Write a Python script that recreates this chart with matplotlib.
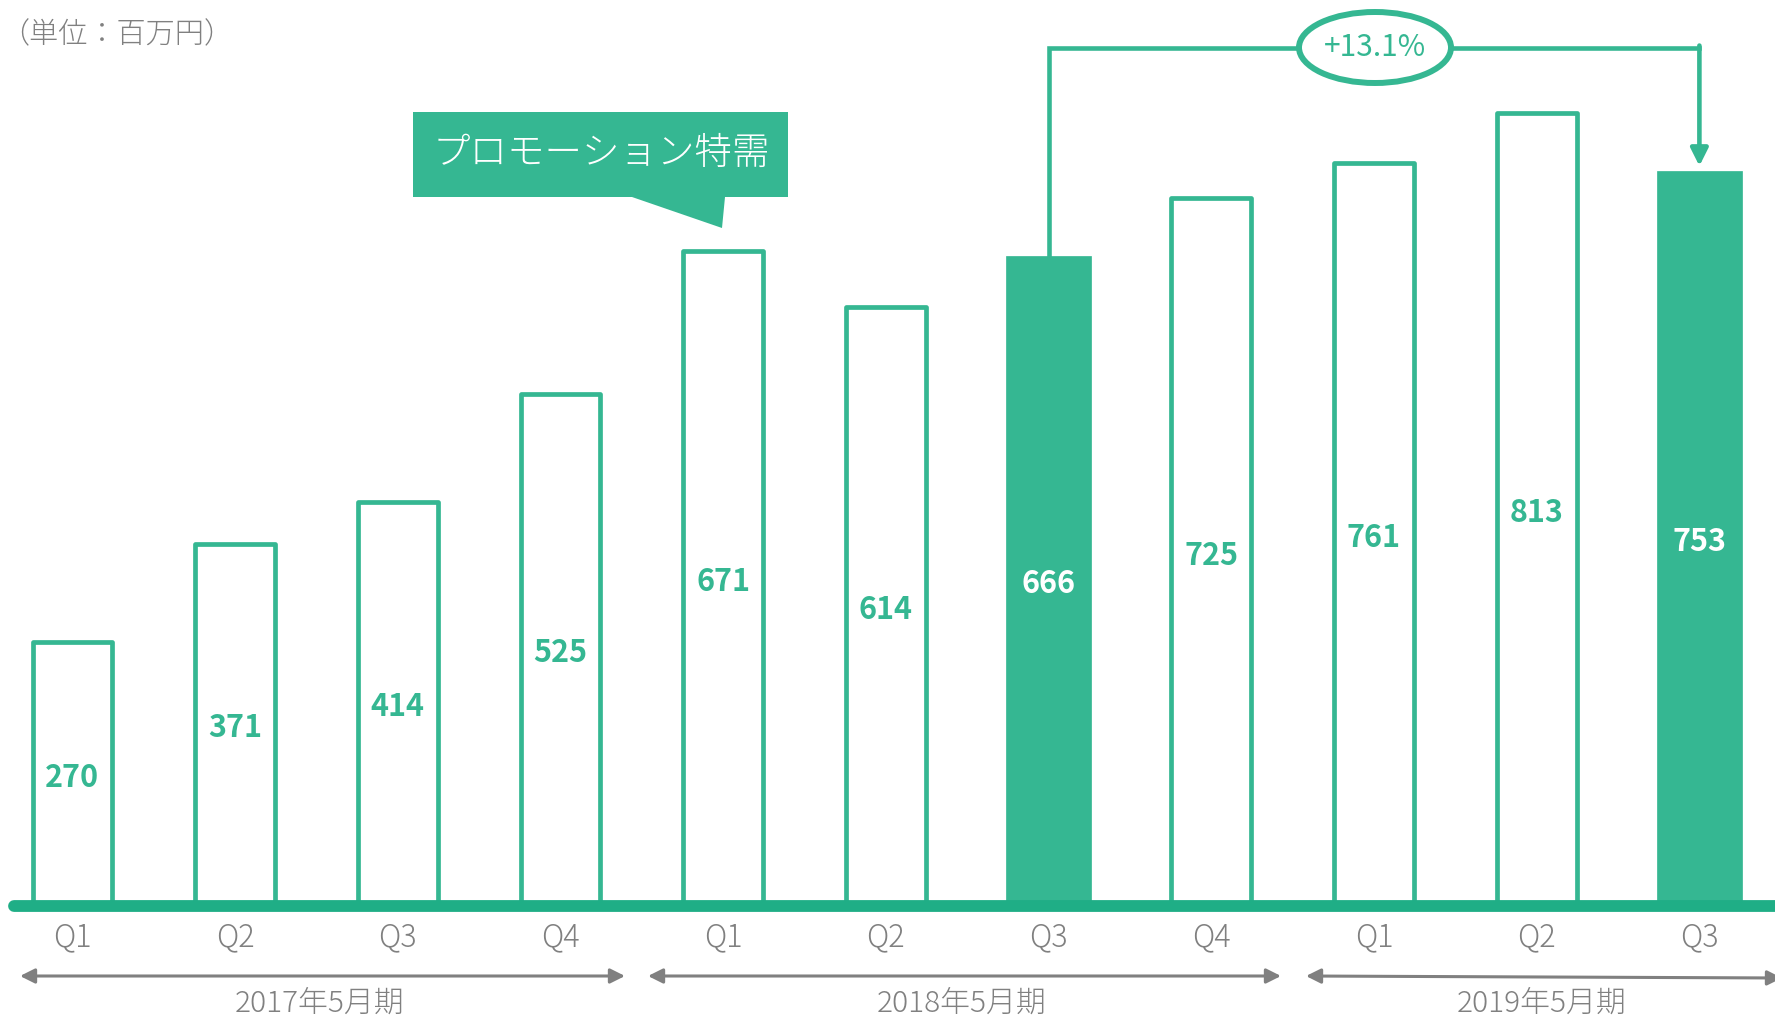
import matplotlib
matplotlib.use("Agg")
import matplotlib.pyplot as plt
from matplotlib.patches import Polygon, Ellipse

plt.rcParams['font.family'] = ['Noto Sans CJK JP', 'DejaVu Sans']

# quarterly revenue (million yen)
quarters = ["Q1", "Q2", "Q3", "Q4", "Q1", "Q2", "Q3", "Q4", "Q1", "Q2", "Q3"]
values = [270, 371, 414, 525, 671, 614, 666, 725, 761, 813, 753]
highlight = [6, 10]
fiscal_years = ["2017年5月期", "2018年5月期", "2019年5月期"]
growth_label = "+13.1%"
promo_label = "プロモーション特需"
unit_label = "（単位：百万円）"

GREEN = "#35b792"
BASE = "#1fae86"
GRAY = "#808080"

W, H = 1775, 1018
fig = plt.figure(figsize=(W / 100, H / 100), dpi=100)
ax = fig.add_axes([0, 0, 1, 1])
ax.axis("off")

# pixel layout of the plotting area
X0, DX = 72.4, 162.7        # first bar centre, bar spacing (px)
Y0, SY = 906.0, 0.976       # baseline (px from top), px per unit
ax.set_xlim(-X0 / DX, (W - X0) / DX)
ax.set_ylim((Y0 - H) / SY, Y0 / SY)


def px_x(p):
    return (p - X0) / DX


def px_y(p):
    return (Y0 - p) / SY


xs = list(range(len(values)))

# bars
for i, (x, v) in enumerate(zip(xs, values)):
    if i in highlight:
        ax.bar(x, v, width=0.52, color=GREEN, edgecolor=GREEN, linewidth=0.5, zorder=2)
        tc = "white"
    else:
        ax.bar(x, v, width=0.49, facecolor="white", edgecolor=GREEN,
               linewidth=3.4, joinstyle="round", zorder=2)
        tc = GREEN
    ax.text(x, v / 2, f"{v}", ha="center", va="center_baseline", fontsize=22,
            fontweight="bold", color=tc, zorder=4)
    ax.text(x, px_y(937), quarters[i], ha="center", va="center", fontsize=22,
            fontweight="light", color=GRAY)

# baseline
ax.plot([px_x(14), px_x(W + 20)], [0, 0], color=BASE, linewidth=8.5,
        solid_capstyle="round", zorder=3)

# fiscal year spans
arrow_px = [(20, 625, 976, 976), (648, 1281, 976, 976), (1306, 1782, 976, 978)]
label_px = [320, 962, 1542]
for (a, b, ya, yb), lx, name in zip(arrow_px, label_px, fiscal_years):
    ax.annotate("", xy=(px_x(b), px_y(yb)), xytext=(px_x(a), px_y(ya)),
                annotation_clip=False,
                arrowprops=dict(arrowstyle="<|-|>", color=GRAY, lw=2.2,
                                mutation_scale=22, shrinkA=0, shrinkB=0))
    ax.text(px_x(lx), px_y(1003), name, ha="center", va="center",
            fontsize=21.5, fontweight="light", color=GRAY)

# growth bracket from the highlighted Q3 bars
i0, i1 = highlight
top = px_y(47.5)
ax.plot([xs[i0], xs[i0], xs[i1]], [values[i0], top, top], color=GREEN,
        linewidth=3.3, solid_joinstyle="miter", zorder=3)
ax.annotate("", xy=(xs[i1], px_y(166)), xytext=(xs[i1], top + 2),
            arrowprops=dict(arrowstyle="-|>", color=GREEN, lw=3.3,
                            mutation_scale=26, shrinkA=0, shrinkB=0), zorder=3)
ex, ey = px_x(1375), top
ell = Ellipse((ex, ey), width=152 / DX, height=71 / SY, facecolor="white",
              edgecolor=GREEN, linewidth=4.3, zorder=4)
ax.add_patch(ell)
ax.text(ex, ey, growth_label, ha="center", va="center", fontsize=21.5,
        color=GREEN, zorder=5)

# promotion callout
box = [(413, 112), (788, 112), (788, 197), (725, 197), (722, 228),
       (632, 197), (413, 197)]
ax.add_patch(Polygon([(px_x(a), px_y(b)) for a, b in box], closed=True,
                     facecolor=GREEN, edgecolor="none", zorder=5))
ax.text(px_x(601), px_y(153), promo_label, ha="center", va="center",
        fontsize=27, fontweight="light", color="white", zorder=6)

# unit note
fig.text(0.0, 1 - 35 / H, unit_label, ha="left", va="center", fontsize=21,
         fontweight="light", color=GRAY)

fig.savefig("out.png", dpi=100)
